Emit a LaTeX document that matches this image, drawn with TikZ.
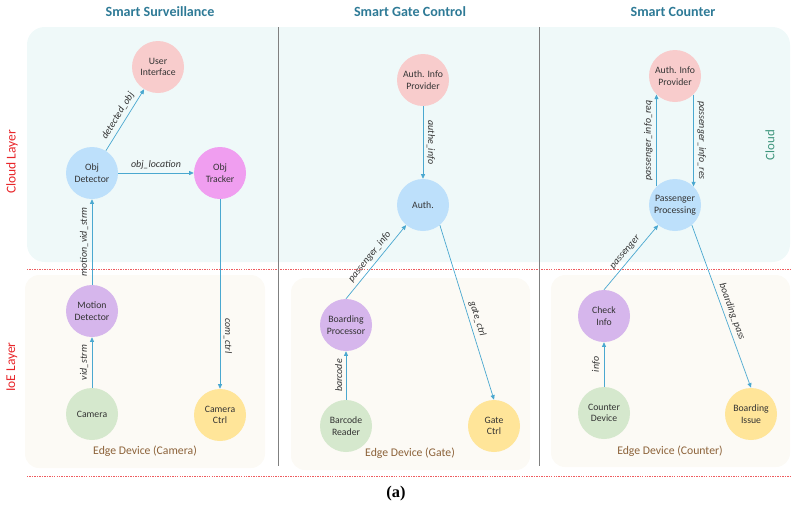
\documentclass[tikz,border=0pt]{standalone}
\usepackage{fontspec}
\setmainfont{Carlito}
\newfontfamily\capfont{Liberation Serif}
\usetikzlibrary{arrows.meta,positioning}
\definecolor{ccloud}{RGB}{239,249,249}
\definecolor{cedge}{RGB}{252,250,245}
\definecolor{cpink}{RGB}{248,204,204}
\definecolor{cblue}{RGB}{189,224,251}
\definecolor{cmagenta}{RGB}{240,158,240}
\definecolor{cpurple}{RGB}{214,182,236}
\definecolor{cgreen}{RGB}{213,232,205}
\definecolor{cyellow}{RGB}{255,229,153}
\definecolor{cflow}{RGB}{74,168,208}
\definecolor{ctitle}{RGB}{46,122,150}
\definecolor{cbrown}{RGB}{140,98,57}
\definecolor{clayer}{RGB}{232,38,42}
\definecolor{ccloudtxt}{RGB}{62,150,125}

\begin{document}
\begin{tikzpicture}[
  x=0.03cm,y=-0.03cm,
  font=\fontsize{8.3}{9.8}\selectfont,
  svc/.style={circle,minimum size=1.56cm,inner sep=0pt,align=center,text=black!80},
  flow/.style={draw=cflow,line width=0.6pt,-{Triangle[length=4pt,width=3.5pt]}},
  lbl/.style={font=\fontsize{8.5}{10}\itshape,sloped,above=1.5pt,inner sep=1.5pt,text=black!80},
  title/.style={font=\fontsize{12}{14}\bfseries,text=ctitle},
  layer/.style={font=\fontsize{11.5}{13}\selectfont,text=clayer,rotate=90},
  edgebox/.style={fill=cedge,rounded corners=12pt},
  edgelbl/.style={font=\fontsize{10}{12}\selectfont,text=cbrown},
  divider/.style={draw=black!50,line width=0.6pt},
  layerline/.style={draw=clayer!75,dash pattern=on 1.2pt off 0.9pt,line width=0.5pt}]

\useasboundingbox (0,0) rectangle (796,520);

% ---- layers ----
\fill[ccloud,rounded corners=15pt] (27,27) rectangle (790,262);
\fill[edgebox] (25,275) rectangle (265,468);
\fill[edgebox] (291,278) rectangle (530,470);
\fill[edgebox] (551,275) rectangle (790,467);
\draw[layerline] (27,269) -- (790,269);
\draw[layerline] (27,476) -- (790,476);
\draw[divider] (278,27) -- (278,466);
\draw[divider] (539,27) -- (539,466);

\node[layer] (cloudlayer) at (12,162) {Cloud Layer};
\node[layer] (ioelayer) at (12,367) {IoE Layer};
\node[rotate=90,font=\fontsize{11}{13}\selectfont,text=ccloudtxt] (cloudtag) at (770,145) {Cloud};

\node[title] (tsurv) at (160,12) {Smart Surveillance};
\node[title] (tgate) at (410,12) {Smart Gate Control};
\node[title] (tcount) at (673,12) {Smart Counter};

\node[edgelbl] (ecam) at (145,451) {Edge Device (Camera)};
\node[edgelbl] (egate) at (410,453) {Edge Device (Gate)};
\node[edgelbl] (ecount) at (670,451) {Edge Device (Counter)};

% ---- smart surveillance ----
\node[svc,fill=cpink] (ui) at (158,67) {User\\Interface};
\node[svc,fill=cblue] (objdet) at (92,173) {Obj\\Detector};
\node[svc,fill=cmagenta] (objtrk) at (220,173) {Obj\\Tracker};
\node[svc,fill=cpurple] (motion) at (92,311) {Motion\\Detector};
\node[svc,fill=cgreen] (camera) at (92,414) {Camera};
\node[svc,fill=cyellow] (camctrl) at (220,415) {Camera\\Ctrl};

\draw[flow] (objdet) -- node[lbl] {detected\_obj} (ui);
\draw[flow] (objdet) -- node[lbl] {obj\_location} (objtrk);
\draw[flow] (motion) -- node[lbl] {motion\_vid\_strm} (objdet);
\draw[flow] (objtrk) -- node[lbl,pos=.72] {com\_ctrl} (camctrl);
\draw[flow] (camera) -- node[lbl] {vid\_strm} (motion);

% ---- smart gate control ----
\node[svc,fill=cpink] (authprov) at (423,80) {Auth. Info\\Provider};
\node[svc,fill=cblue] (auth) at (423,205) {Auth.};
\node[svc,fill=cpurple] (boarding) at (346,325) {Boarding\\Processor};
\node[svc,fill=cgreen] (barcode) at (346,426) {Barcode\\Reader};
\node[svc,fill=cyellow] (gatectrl) at (494,426) {Gate\\Ctrl};

\draw[flow] (authprov) -- node[lbl] {authe\_info} (auth);
\draw[flow] (boarding.north) -- node[lbl] {passenger\_info} (auth.-130);
\draw[flow] (auth.-50) -- node[lbl,pos=.55] {gate\_ctrl} (gatectrl.north);
\draw[flow] (barcode) -- node[lbl] {barcode} (boarding);

% ---- smart counter ----
\node[svc,fill=cpink] (cauthprov) at (675,76) {Auth. Info\\Provider};
\node[svc,fill=cblue] (passproc) at (675,205) {Passenger\\Processing};
\node[svc,fill=cpurple] (check) at (604,316) {Check\\Info};
\node[svc,fill=cgreen] (cntdev) at (604,413) {Counter\\Device};
\node[svc,fill=cyellow] (bissue) at (751,414) {Boarding\\Issue};

\draw[flow] (passproc.135) -- node[lbl] {passenger\_info\_req} (cauthprov.225);
\draw[flow] (cauthprov.-45) -- node[lbl] {passenger\_info\_res} (passproc.45);
\draw[flow] (check.north) -- node[lbl] {passenger} (passproc.-130);
\draw[flow] (passproc.-50) -- node[lbl,pos=.55] {boarding\_pass} (bissue.north);
\draw[flow] (cntdev) -- node[lbl] {info} (check);

\node[font=\capfont\fontsize{14}{16}\bfseries] (caption) at (396,494) {(a)};
\end{tikzpicture}
\end{document}
